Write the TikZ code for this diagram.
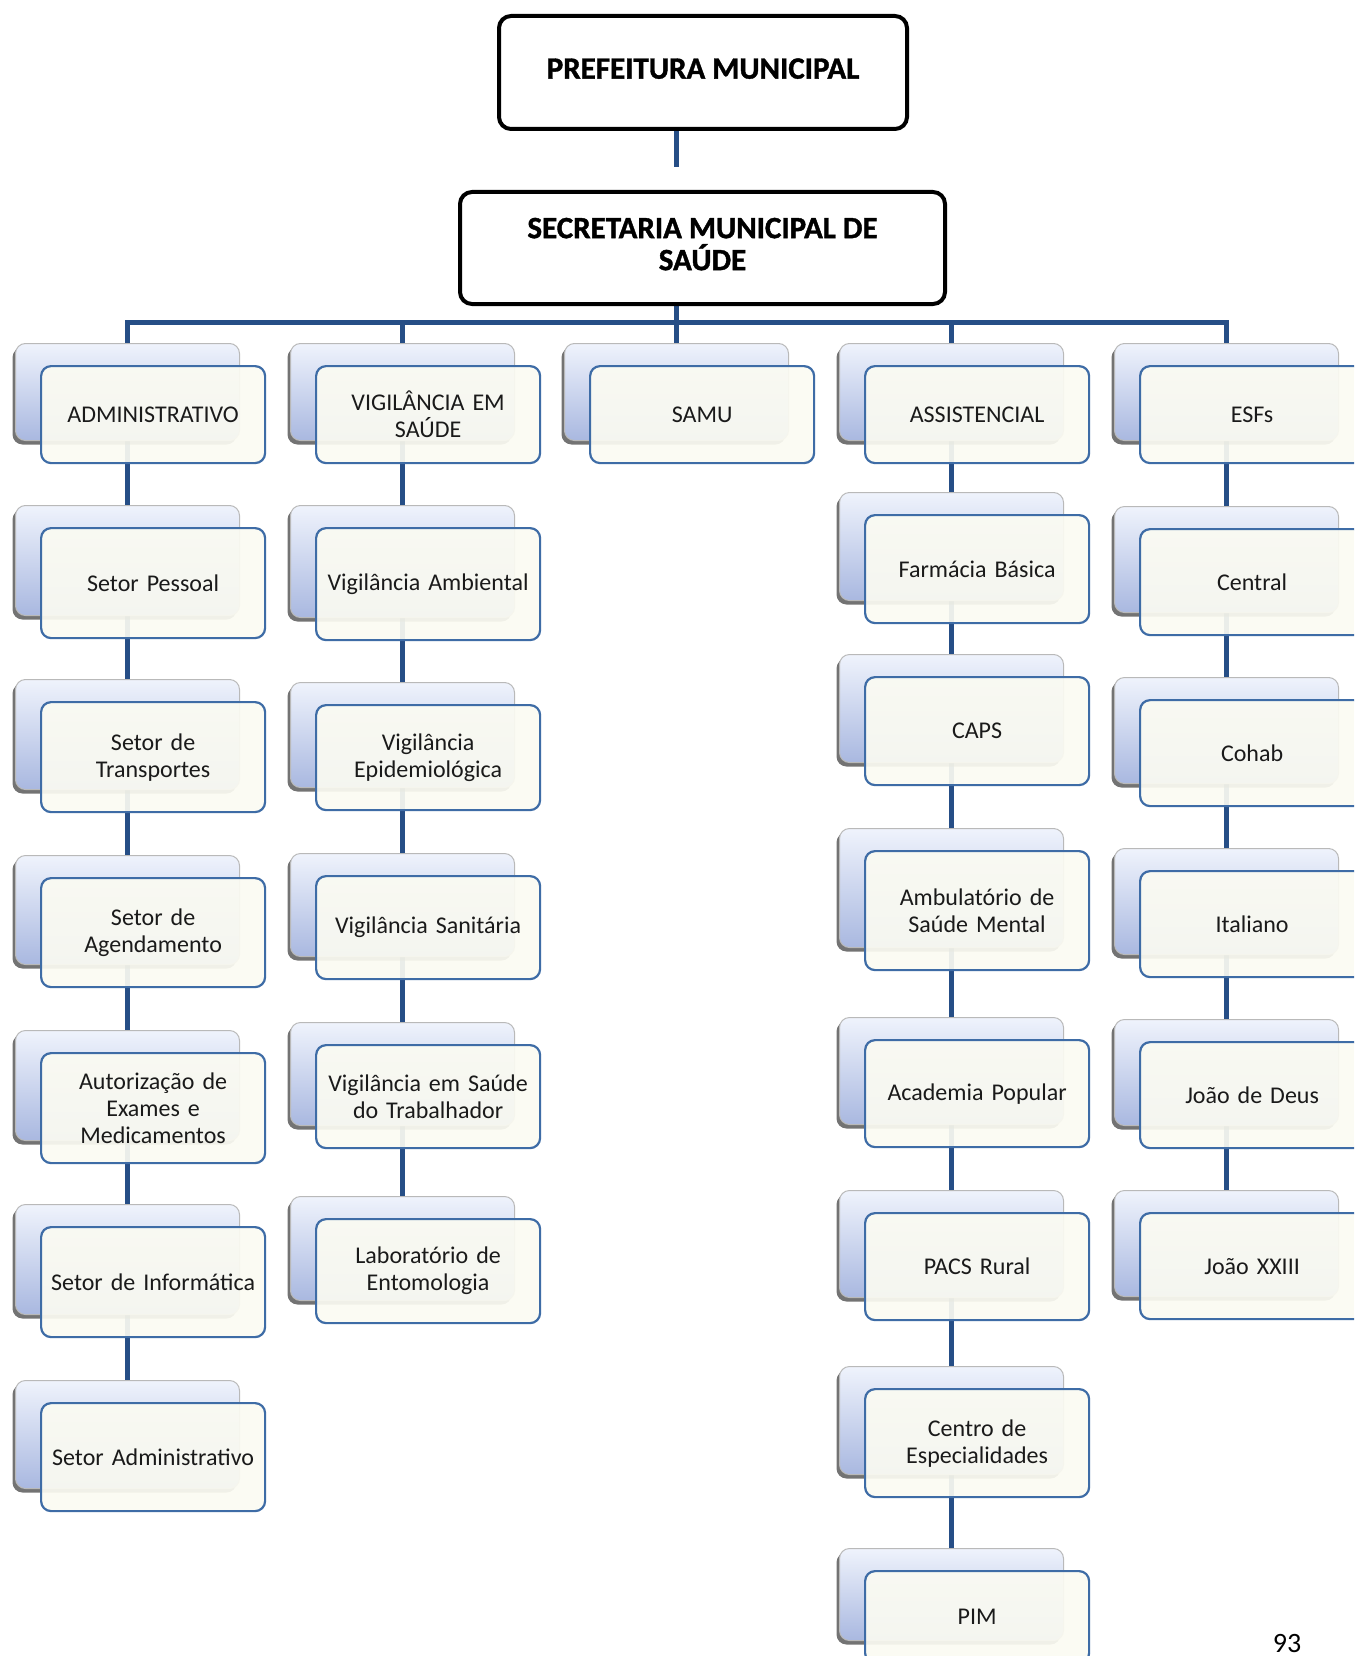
\documentclass[tikz,border=0pt]{standalone}
\usepackage{fontspec}
\setmainfont{Carlito}
\newfontfamily\titlefont{Carlito}[BoldFeatures={FakeBold=1.2}]
\usetikzlibrary{shadows}
\definecolor{connc}{HTML}{264E86}
\definecolor{frontborder}{HTML}{3E6CA6}
\definecolor{frontfill}{HTML}{FBFBF2}
\definecolor{backtop}{HTML}{EFF3FC}
\definecolor{backbot}{HTML}{A9B8E0}
\definecolor{txt}{HTML}{1A1A1A}
\pgfdeclarelayer{bg}
\pgfsetlayers{bg,main}
\tikzset{
  backbox/.style={rectangle, rounded corners=10pt, minimum width=224pt, inner sep=0pt,
    top color=backtop, bottom color=backbot, draw=gray!55, line width=1pt,
    drop shadow={shadow xshift=-3pt, shadow yshift=-4pt, opacity=0.55, fill=black}},
  frontbox/.style={rectangle, rounded corners=10pt, minimum width=224pt, inner sep=4pt,
    draw=frontborder, line width=2.2pt, fill=frontfill, fill opacity=0.92, text opacity=1,
    align=center, text=txt, font=\fontsize{24}{27}\selectfont},
  titlebox/.style={rectangle, rounded corners=12pt, draw=black, line width=4pt, fill=white,
    inner sep=0pt, align=center, text depth=8pt, font=\titlefont\bfseries\fontsize{31}{32}\selectfont},
  conn/.style={draw=connc, line width=5pt},
  pagenum/.style={font=\fontsize{28}{30}\selectfont, text=black}
}
\newcommand{\orgbox}[5]{%
  \node[backbox, minimum height={#4-#3}, anchor=north west] (#1-b) at ({#2-25},{#3-22}) {};
  \node[frontbox, minimum height={#4-#3}, anchor=north west, text width=216pt] (#1) at (#2,#3) {#5};
}
\begin{document}
\begin{tikzpicture}[x=1pt,y=-1pt]
\useasboundingbox (0,0) rectangle (1354,1656);
\clip (0,0) rectangle (1354,1656);

% top boxes
\node[titlebox, minimum width=408pt, minimum height=113pt, anchor=north west] (pref) at (497,14) {PREFEITURA MUNICIPAL};
\node[titlebox, minimum width=485pt, minimum height=112pt, anchor=north west] (sec) at (458,190) {SECRETARIA MUNICIPAL DE\\SAÚDE};

% column 1
\orgbox{adm}{40}{365}{462}{ADMINISTRATIVO}
\orgbox{pes}{40}{527}{637}{Setor Pessoal}
\orgbox{trn}{40}{701}{811}{Setor de\\Transportes}
\orgbox{age}{40}{877}{986}{Setor de\\Agendamento}
\orgbox{aut}{40}{1052}{1162}{Autorização de\\Exames e\\Medicamentos}
\orgbox{inf}{40}{1226}{1336}{Setor de Informática}
\orgbox{sad}{40}{1402}{1510}{Setor Administrativo}

% column 2
\orgbox{vig}{315}{365}{462}{VIGILÂNCIA EM\\SAÚDE}
\orgbox{amb}{315}{527}{639}{Vigilância Ambiental}
\orgbox{epi}{315}{704}{809}{Vigilância\\Epidemiológica}
\orgbox{san}{315}{875}{978}{Vigilância Sanitária}
\orgbox{vtr}{315}{1044}{1147}{Vigilância em Saúde\\do Trabalhador}
\orgbox{lab}{315}{1218}{1322}{Laboratório de\\Entomologia}

% column 3
\orgbox{samu}{589}{365}{462}{SAMU}

% column 4
\orgbox{ass}{864}{365}{462}{ASSISTENCIAL}
\orgbox{far}{864}{514}{622}{Farmácia Básica}
\orgbox{caps}{864}{676}{784}{CAPS}
\orgbox{ambu}{864}{850}{969}{Ambulatório de\\Saúde Mental}
\orgbox{aca}{864}{1039}{1146}{Academia Popular}
\orgbox{pacs}{864}{1212}{1319}{PACS Rural}
\orgbox{cen}{864}{1388}{1496}{Centro de\\Especialidades}
\orgbox{pim}{864}{1570}{1662}{PIM}

% column 5
\orgbox{esf}{1139}{365}{462}{ESFs}
\orgbox{cent}{1139}{528}{634}{Central}
\orgbox{coh}{1139}{699}{805}{Cohab}
\orgbox{ita}{1139}{870}{976}{Italiano}
\orgbox{jde}{1139}{1041}{1147}{João de Deus}
\orgbox{jxx}{1139}{1212}{1318}{João XXIII}

\node[pagenum] (pg) at (1287,1643) {93};

\begin{pgfonlayer}{bg}
\fill[white] (0,0) rectangle (1354,1656);
\coordinate (spine) at (676,167);
\coordinate (bar) at (676,322);
\draw[conn] (pref.south -| spine) -- (spine);
\draw[conn] (sec.south -| bar) -- (bar);
\draw[conn] (adm-b.center) -- (adm-b.center |- bar) -- (esf-b.center |- bar) -- (esf-b.center);
\draw[conn] (vig-b.center) -- (vig-b.center |- bar);
\draw[conn] (samu-b.center) -- (samu-b.center |- bar);
\draw[conn] (ass-b.center) -- (ass-b.center |- bar);
\draw[conn] (adm-b.center) -- (pes-b.center) -- (trn-b.center) -- (age-b.center) -- (aut-b.center) -- (inf-b.center) -- (sad-b.center);
\draw[conn] (vig-b.center) -- (amb-b.center) -- (epi-b.center) -- (san-b.center) -- (vtr-b.center) -- (lab-b.center);
\draw[conn] (ass-b.center) -- (far-b.center) -- (caps-b.center) -- (ambu-b.center) -- (aca-b.center) -- (pacs-b.center) -- (cen-b.center) -- (pim-b.center);
\draw[conn] (esf-b.center) -- (cent-b.center) -- (coh-b.center) -- (ita-b.center) -- (jde-b.center) -- (jxx-b.center);
\end{pgfonlayer}
\end{tikzpicture}
\end{document}
